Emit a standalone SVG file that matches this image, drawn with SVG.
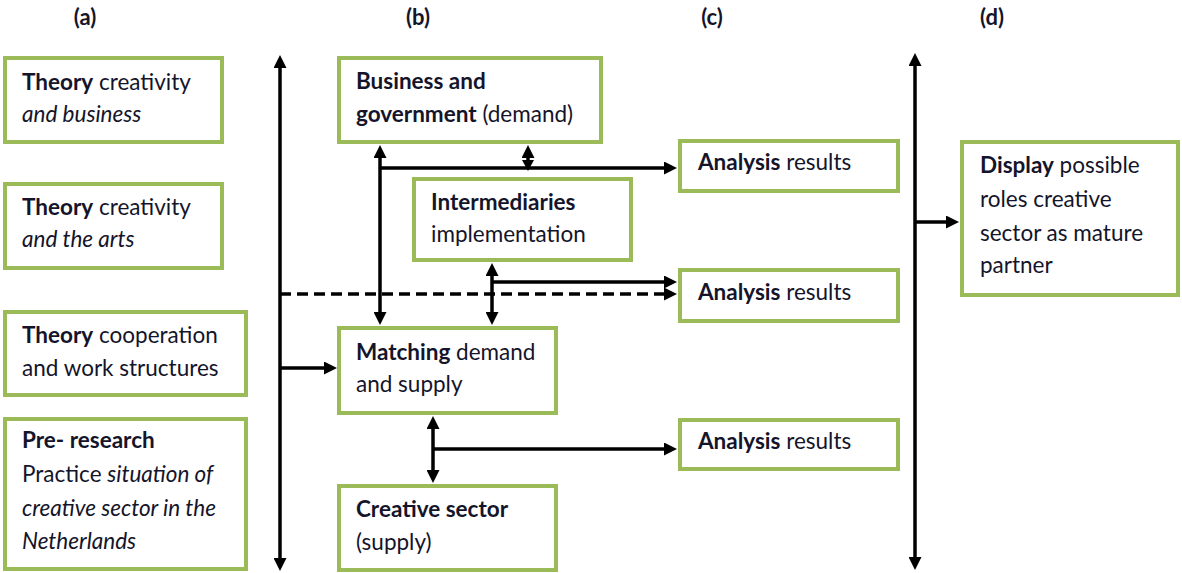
<svg xmlns="http://www.w3.org/2000/svg" width="1182" height="573" viewBox="0 0 1182 573">
<style>
.box{fill:#fff;stroke:#9bbb59;stroke-width:4}
.t{font-family:Lato,"Open Sans","Liberation Sans",sans-serif;font-size:22.5px;fill:#14142a}
.b{font-weight:bold}
.i{font-style:italic}
.h{font-family:Lato,"Liberation Sans",sans-serif;font-size:22px;font-weight:bold;fill:#14142a;text-anchor:middle}
.c{fill:none;stroke:#000;stroke-width:3.5}
.d{stroke-dasharray:11 6}
</style>
<defs>
<marker id="ah" markerUnits="userSpaceOnUse" markerWidth="13" markerHeight="13" refX="2" refY="6.5" orient="auto-start-reverse">
<path d="M0,0 L13,6.5 L0,13 z" fill="#000"/>
</marker>
</defs>
<g id="headers">
<text class="h" x="85" y="25">(a)</text>
<text class="h" x="418" y="25">(b)</text>
<text class="h" x="712" y="25">(c)</text>
<text class="h" x="992" y="25">(d)</text>
</g>
<g id="connectors">
<path class="c" d="M280,66 V560" marker-start="url(#ah)" marker-end="url(#ah)"/>
<path class="c" d="M280,368 H326" marker-end="url(#ah)"/>
<path class="c d" d="M280,294 H666" marker-end="url(#ah)"/>
<path class="c" d="M380,156 V314" marker-start="url(#ah)" marker-end="url(#ah)"/>
<path class="c" d="M380,168 H666" marker-end="url(#ah)"/>
<path class="c" d="M528,168 V156" marker-end="url(#ah)"/>
<path d="M522,160 H534 L528,171 z" fill="#000"/>
<path class="c" d="M492,274 V314" marker-start="url(#ah)" marker-end="url(#ah)"/>
<path class="c" d="M492,282 H666" marker-end="url(#ah)"/>
<path class="c" d="M433,427 V472" marker-start="url(#ah)" marker-end="url(#ah)"/>
<path class="c" d="M433,449 H666" marker-end="url(#ah)"/>
<path class="c" d="M915,64 V559" marker-start="url(#ah)" marker-end="url(#ah)"/>
<path class="c" d="M915,222 H948" marker-end="url(#ah)"/>
</g>
<g id="theory-business">
<rect class="box" x="5" y="58" width="217" height="84"/>
<text class="t" x="22" y="90"><tspan class="b">Theory</tspan> creativity</text>
<text class="t i" x="22" y="122">and business</text>
</g>
<g id="theory-arts">
<rect class="box" x="5" y="184" width="217" height="84"/>
<text class="t" x="22" y="215"><tspan class="b">Theory</tspan> creativity</text>
<text class="t i" x="22" y="247">and the arts</text>
</g>
<g id="theory-cooperation">
<rect class="box" x="5" y="312" width="241" height="83"/>
<text class="t" x="22" y="343"><tspan class="b">Theory</tspan> cooperation</text>
<text class="t" x="22" y="376">and work structures</text>
</g>
<g id="pre-research">
<rect class="box" x="5" y="419" width="241" height="150"/>
<text class="t b" x="22" y="448">Pre- research</text>
<text class="t" x="22" y="482">Practice <tspan class="i">situation of</tspan></text>
<text class="t i" x="22" y="516">creative sector in the</text>
<text class="t i" x="22" y="549">Netherlands</text>
</g>
<g id="business-government">
<rect class="box" x="339" y="58" width="262" height="84"/>
<text class="t b" x="356" y="89">Business and</text>
<text class="t" x="356" y="122"><tspan class="b">government</tspan> (demand)</text>
</g>
<g id="intermediaries">
<rect class="box" x="414" y="179" width="217" height="81"/>
<text class="t b" x="431" y="210">Intermediaries</text>
<text class="t" x="431" y="242">implementation</text>
</g>
<g id="matching">
<rect class="box" x="339" y="328" width="217" height="85"/>
<text class="t" x="356" y="360"><tspan class="b">Matching</tspan> demand</text>
<text class="t" x="356" y="392">and supply</text>
</g>
<g id="creative-sector">
<rect class="box" x="339" y="486" width="217" height="84"/>
<text class="t b" x="356" y="517">Creative sector</text>
<text class="t" x="356" y="550">(supply)</text>
</g>
<g id="analysis-1">
<rect class="box" x="680" y="141" width="218" height="50"/>
<text class="t" x="698" y="170"><tspan class="b">Analysis</tspan> results</text>
</g>
<g id="analysis-2">
<rect class="box" x="680" y="270" width="218" height="51"/>
<text class="t" x="698" y="300"><tspan class="b">Analysis</tspan> results</text>
</g>
<g id="analysis-3">
<rect class="box" x="680" y="420" width="218" height="49"/>
<text class="t" x="698" y="449"><tspan class="b">Analysis</tspan> results</text>
</g>
<g id="display">
<rect class="box" x="962" y="142" width="216" height="153"/>
<text class="t" x="980" y="173"><tspan class="b">Display</tspan> possible</text>
<text class="t" x="980" y="207">roles creative</text>
<text class="t" x="980" y="241">sector as mature</text>
<text class="t" x="980" y="273">partner</text>
</g>
</svg>
